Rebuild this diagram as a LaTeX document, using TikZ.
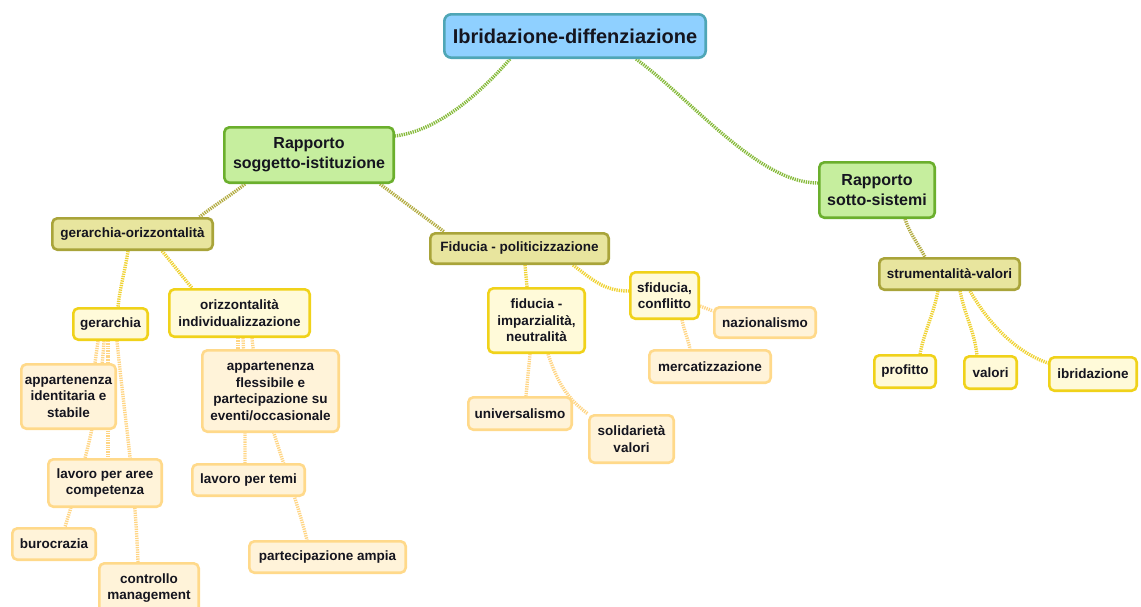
\documentclass[tikz,border=0pt]{standalone}
\usepackage{fontspec}
\setmainfont{Liberation Sans}
\usetikzlibrary{backgrounds}
\definecolor{txt}{HTML}{15151F}
\definecolor{rootfill}{HTML}{8FD0FF}
\definecolor{rootdraw}{HTML}{4FA6B6}
\definecolor{lafill}{HTML}{C6EE9E}
\definecolor{ladraw}{HTML}{6BAF2D}
\definecolor{lbfill}{HTML}{E8E59E}
\definecolor{lbdraw}{HTML}{A9A43A}
\definecolor{lcfill}{HTML}{FFFAD9}
\definecolor{lcdraw}{HTML}{F0D21A}
\definecolor{ldfill}{HTML}{FFF3D9}
\definecolor{lddraw}{HTML}{FFD98A}
\definecolor{cona}{HTML}{86BA3A}
\definecolor{conb}{HTML}{B3AC42}
\definecolor{conc}{HTML}{EFD232}
\definecolor{cond}{HTML}{FFD584}
\tikzset{
  box/.style={rounded corners=5pt, line width=2.6pt, align=center, inner sep=0pt, text=txt},
  sz/.style 2 args={minimum width=#1-2.6pt, minimum height=#2-2.6pt},
  rootbox/.style={box, fill=rootfill, draw=rootdraw, rounded corners=7pt, font=\fontsize{20}{24}\selectfont\bfseries},
  labox/.style={box, fill=lafill, draw=ladraw, font=\fontsize{16}{20}\selectfont\bfseries},
  lbbox/.style={box, fill=lbfill, draw=lbdraw, font=\fontsize{13.5}{16.5}\selectfont\bfseries},
  lcbox/.style={box, fill=lcfill, draw=lcdraw, font=\fontsize{13.5}{16.5}\selectfont\bfseries},
  ldbox/.style={box, fill=ldfill, draw=lddraw, font=\fontsize{13.5}{16.5}\selectfont\bfseries},
  conn/.style={line width=3.4pt, dash pattern=on 1.3pt off 1pt},
  conna/.style={conn, draw=cona},
  connb/.style={conn, draw=conb},
  connc/.style={conn, draw=conc},
  connd/.style={conn, draw=cond},
}
\begin{document}
\begin{tikzpicture}[x=1pt,y=-1pt]
\useasboundingbox (0,0) rectangle (1141,606);
% nodes
\node[rootbox, sz={264pt}{46pt}] (root) at (575,36) {Ibridazione-diffenziazione};
\node[labox, sz={172pt}{58pt}] (rs) at (309,155) {Rapporto\\soggetto-istituzione};
\node[labox, sz={118pt}{58pt}] (rss) at (877,190) {Rapporto\\sotto-sistemi};
\node[lbbox, sz={163pt}{34pt}] (go) at (132.5,234) {gerarchia-orizzontalità};
\node[lbbox, sz={181pt}{33pt}] (fp) at (519.5,248.5) {Fiducia - politicizzazione};
\node[lbbox, sz={143pt}{34pt}] (sv) at (949.5,274) {strumentalità-valori};
\node[lcbox, sz={77pt}{34pt}] (ger) at (110.5,324) {gerarchia};
\node[lcbox, sz={143pt}{50pt}] (ori) at (239.5,313) {orizzontalità\\individualizzazione};
\node[lcbox, sz={99pt}{67pt}] (fim) at (536.5,320.5) {fiducia -\\imparzialità,\\neutralità};
\node[lcbox, sz={71pt}{49pt}] (sfi) at (664.5,295.5) {sfiducia,\\conflitto};
\node[lcbox, sz={64pt}{35pt}] (prof) at (905,371.5) {profitto};
\node[lcbox, sz={55pt}{35pt}] (val) at (990.5,372.5) {valori};
\node[lcbox, sz={90pt}{36pt}] (ibr) at (1093,374) {ibridazione};
\node[ldbox, sz={97pt}{67pt}] (aid) at (68.5,396.5) {appartenenza\\identitaria e\\stabile};
\node[ldbox, sz={116pt}{50pt}] (lac) at (105,483) {lavoro per aree\\competenza};
\node[ldbox, sz={86pt}{34pt}] (bur) at (54,544) {burocrazia};
\node[ldbox, sz={102pt}{52pt}] (con) at (149,588) {controllo\\management};
\node[ldbox, sz={139pt}{84pt}] (afl) at (270.5,391) {appartenenza\\flessibile e\\partecipazione su\\eventi/occasionale};
\node[ldbox, sz={115pt}{34pt}] (lpt) at (248.5,480) {lavoro per temi};
\node[ldbox, sz={159pt}{34pt}] (pam) at (327.5,557) {partecipazione ampia};
\node[ldbox, sz={106pt}{35pt}] (uni) at (520,413.5) {universalismo};
\node[ldbox, sz={87pt}{50pt}] (sol) at (631.5,439) {solidarietà\\valori};
\node[ldbox, sz={104pt}{33pt}] (naz) at (765,322.5) {nazionalismo};
\node[ldbox, sz={124pt}{35pt}] (mer) at (710,366.5) {mercatizzazione};
% connectors
\begin{pgfonlayer}{background}
\draw[conna] ([xshift=-65pt]root.south) .. controls +(-35,40) and +(40,-5) .. ([yshift=19pt]rs.east);
\draw[conna] ([xshift=61pt]root.south) .. controls +(55,40) and +(-60,0) .. ([yshift=7pt]rss.west);
\draw[connb] ([xshift=-64pt]rs.south) .. controls +(-15,12) and +(15,-12) .. ([xshift=67pt]go.north);
\draw[connb] ([xshift=71pt]rs.south) .. controls +(20,15) and +(-20,-15) .. ([xshift=-75pt]fp.north);
\draw[connb] ([xshift=28pt]rss.south) .. controls +(5,15) and +(-8,-15) .. ([xshift=-24.5pt]sv.north);
\draw[connc] ([xshift=-4.5pt]go.south) .. controls +(-3,20) and +(2,-20) .. ([xshift=7.5pt]ger.north);
\draw[connc] ([xshift=29.5pt]go.south) .. controls +(10,12) and +(-10,-12) .. ([xshift=-47.5pt]ori.north);
\draw[connc] ([xshift=5.5pt]fp.south) -- ([xshift=-9.5pt]fim.north);
\draw[connc] ([xshift=53.5pt]fp.south) .. controls +(20,15) and +(-25,0) .. ([yshift=4.5pt]sfi.west);
\draw[connc] ([xshift=-11.5pt]sv.south) .. controls +(-5,25) and +(5,-25) .. ([xshift=15pt]prof.north);
\draw[connc] ([xshift=10.5pt]sv.south) .. controls +(5,25) and +(-3,-25) .. ([xshift=-13.5pt]val.north);
\draw[connc] ([xshift=20.5pt]sv.south) .. controls +(20,35) and +(-30,-10) .. ([yshift=11pt]ibr.west);
\draw[connd] ([xshift=-12.5pt]ger.south) -- ([xshift=26.5pt]aid.north);
\draw[connd] ([xshift=-2.5pt]ger.south) .. controls +(0,40) and +(0,-40) .. ([xshift=3pt]lac.north);
\draw[connd] ([xshift=-6.5pt]ger.south) .. controls +(-5,80) and +(15,-50) .. ([xshift=11pt]bur.north);
\draw[connd] ([xshift=6.5pt]ger.south) .. controls +(8,80) and +(-3,-80) .. ([xshift=-11pt]con.north);
\draw[connd] ([xshift=-1.5pt]ori.south) -- ([xshift=-32.5pt]afl.north);
\draw[connd] ([xshift=3.5pt]ori.south) .. controls +(2,40) and +(0,-40) .. ([xshift=-3.5pt]lpt.north);
\draw[connd] ([xshift=12.5pt]ori.south) .. controls +(5,60) and +(-15,-60) .. ([xshift=-20.5pt]pam.north);
\draw[connd] ([xshift=-6.5pt]fim.south) -- ([xshift=6pt]uni.north);
\draw[connd] ([xshift=11.5pt]fim.south) .. controls +(10,30) and +(-20,-15) .. ([xshift=-43.5pt]sol.north);
\draw[connd] ([yshift=-10.5pt]sfi.east) -- ([yshift=11.5pt]naz.west);
\draw[connd] ([xshift=17.5pt]sfi.south) .. controls +(2,10) and +(-2,-10) .. ([xshift=-20pt]mer.north);
\end{pgfonlayer}
\end{tikzpicture}
\end{document}
